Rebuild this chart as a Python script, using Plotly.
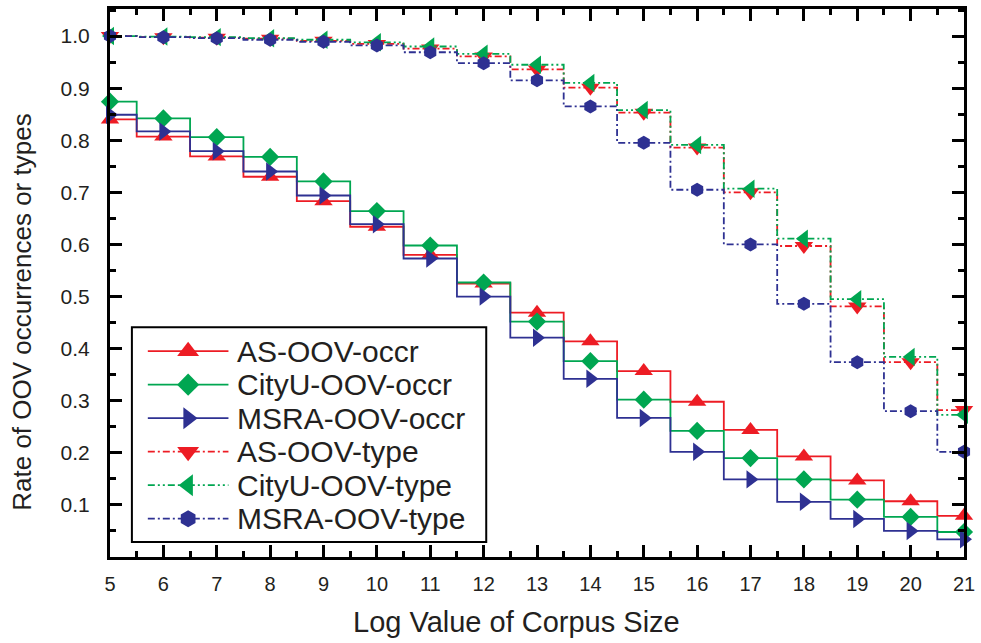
import plotly.graph_objects as go

# Log10-ish corpus size steps
corpus_log = [5, 6, 7, 8, 9, 10, 11, 12, 13, 14, 15, 16, 17, 18, 19, 20, 21]

# OOV occurrence rates
as_occr = [0.840, 0.807, 0.769, 0.730, 0.683, 0.634, 0.580, 0.525, 0.469,
           0.414, 0.357, 0.298, 0.244, 0.193, 0.147, 0.107, 0.079]
cityu_occr = [0.874, 0.842, 0.806, 0.768, 0.721, 0.664, 0.598, 0.527, 0.452,
              0.376, 0.302, 0.242, 0.190, 0.149, 0.110, 0.077, 0.048]
msra_occr = [0.849, 0.817, 0.779, 0.740, 0.694, 0.639, 0.573, 0.500, 0.421,
             0.342, 0.267, 0.202, 0.149, 0.106, 0.073, 0.050, 0.034]

# OOV type rates
as_type = [1.000, 0.998, 0.997, 0.995, 0.991, 0.985, 0.976, 0.961, 0.936,
           0.901, 0.853, 0.786, 0.700, 0.597, 0.481, 0.374, 0.282]
cityu_type = [1.000, 0.999, 0.998, 0.996, 0.993, 0.988, 0.980, 0.966, 0.945,
              0.910, 0.858, 0.791, 0.707, 0.611, 0.495, 0.384, 0.273]
msra_type = [1.000, 0.998, 0.996, 0.993, 0.989, 0.982, 0.969, 0.948, 0.915,
             0.865, 0.795, 0.705, 0.600, 0.486, 0.374, 0.280, 0.202]

y_tick_vals = [0.1, 0.2, 0.3, 0.4, 0.5, 0.6, 0.7, 0.8, 0.9, 1.0]
y_tick_text = ["0.1", "0.2", "0.3", "0.4", "0.5", "0.6", "0.7", "0.8", "0.9", "1.0"]

RED = "#ED1C24"
GREEN = "#00A651"
BLUE = "#2E3192"
INK = "#231F20"
FONT = "Liberation Sans, Arial, Helvetica, sans-serif"
DASHDOT = "7px,3px,2px,3px"
DASHDOTDOT = "7px,3px,2px,3px,2px,3px"

# name, values, colour, dash, marker symbol, plot marker size, legend marker size
series = [
    ("AS-OOV-occr", as_occr, RED, "solid", "triangle-up", 16, 19),
    ("CityU-OOV-occr", cityu_occr, GREEN, "solid", "diamond", 14, 17),
    ("MSRA-OOV-occr", msra_occr, BLUE, "solid", "triangle-right", 16, 19),
    ("AS-OOV-type", as_type, RED, DASHDOT, "triangle-down", 16, 19),
    ("CityU-OOV-type", cityu_type, GREEN, DASHDOTDOT, "triangle-left", 16, 19),
    ("MSRA-OOV-type", msra_type, BLUE, DASHDOT, "hexagon", 14, 17),
]

W, H = 981, 643
ML, MR, MT, MB = 110, 13, 6, 86
PW, PH = W - ML - MR, H - MT - MB


def px_x(px):
    return (px - ML) / PW


def px_y(py):
    return (H - MB - py) / PH


fig = go.Figure()

for name, vals, color, dash, symbol, size, _ in series:
    fig.add_trace(go.Scatter(
        x=corpus_log, y=vals, name=name, mode="lines+markers",
        line=dict(color=color, width=1.8, dash=dash, shape="hvh"),
        marker=dict(symbol=symbol, size=size, color=color, line=dict(width=0)),
        cliponaxis=False, showlegend=False,
    ))

# Hand-built legend box on an overlay axis spanning the plot area
box_x0, box_x1, box_y0, box_y1 = 132, 488, 326, 542
row0, row_step = 350, 33.7
line_x0, line_x1, mark_x, text_x = 148, 229, 188.5, 236

fig.add_shape(type="rect", xref="paper", yref="paper",
              x0=px_x(box_x0), x1=px_x(box_x1), y0=px_y(box_y1), y1=px_y(box_y0),
              line=dict(color="black", width=2), fillcolor="white", layer="below")

for i, (name, vals, color, dash, symbol, _, lsize) in enumerate(series):
    yc = px_y(row0 + i * row_step)
    fig.add_trace(go.Scatter(
        x=[px_x(line_x0), px_x(line_x1)], y=[yc, yc], xaxis="x2", yaxis="y2",
        mode="lines", line=dict(color=color, width=1.8, dash=dash),
        showlegend=False, hoverinfo="skip",
    ))
    fig.add_trace(go.Scatter(
        x=[px_x(mark_x)], y=[yc], xaxis="x2", yaxis="y2", mode="markers",
        marker=dict(symbol=symbol, size=lsize, color=color, line=dict(width=0)),
        showlegend=False, hoverinfo="skip",
    ))
    fig.add_annotation(x=px_x(text_x), y=yc, xref="paper", yref="paper",
                       text=name, showarrow=False, xanchor="left", yanchor="middle",
                       font=dict(family=FONT, size=30, color=INK))

# Axis titles
fig.add_annotation(x=px_x(22), y=px_y(311), xref="paper", yref="paper",
                   text="Rate of OOV occurrences or types", textangle=-90,
                   showarrow=False, xanchor="center", yanchor="middle",
                   font=dict(family=FONT, size=26, color=INK))
fig.add_annotation(x=px_x(518), y=px_y(622), xref="paper", yref="paper",
                   text="Log Value of Corpus Size",
                   showarrow=False, xanchor="center", yanchor="middle",
                   font=dict(family=FONT, size=29, color=INK))

axis_common = dict(
    showline=True, linecolor="black", linewidth=3, mirror="allticks",
    ticks="inside", ticklen=12, tickwidth=2.5, tickcolor="black",
    showgrid=False, zeroline=False,
)

fig.update_layout(
    width=W, height=H,
    margin=dict(l=ML, r=MR, t=MT, b=MB),
    plot_bgcolor="white", paper_bgcolor="white",
    xaxis=dict(range=[5, 21], tickmode="linear", tick0=5, dtick=1,
               ticklabelstandoff=7,
               tickfont=dict(family=FONT, size=20, color=INK),
               minor=dict(tickmode="linear", tick0=5.5, dtick=0.5, ticks="inside",
                          ticklen=6, tickwidth=2.5, tickcolor="black"),
               **axis_common),
    yaxis=dict(range=[0, 1.052], tickmode="array", tickvals=y_tick_vals,
               ticktext=y_tick_text, ticklabelstandoff=13,
               tickfont=dict(family=FONT, size=21, color=INK),
               minor=dict(tickmode="linear", tick0=0.05, dtick=0.05, ticks="inside",
                          ticklen=6, tickwidth=2.5, tickcolor="black"),
               **axis_common),
    xaxis2=dict(range=[0, 1], overlaying="x", visible=False, fixedrange=True),
    yaxis2=dict(range=[0, 1], overlaying="y", visible=False, fixedrange=True),
)

fig.write_html("out.html")
